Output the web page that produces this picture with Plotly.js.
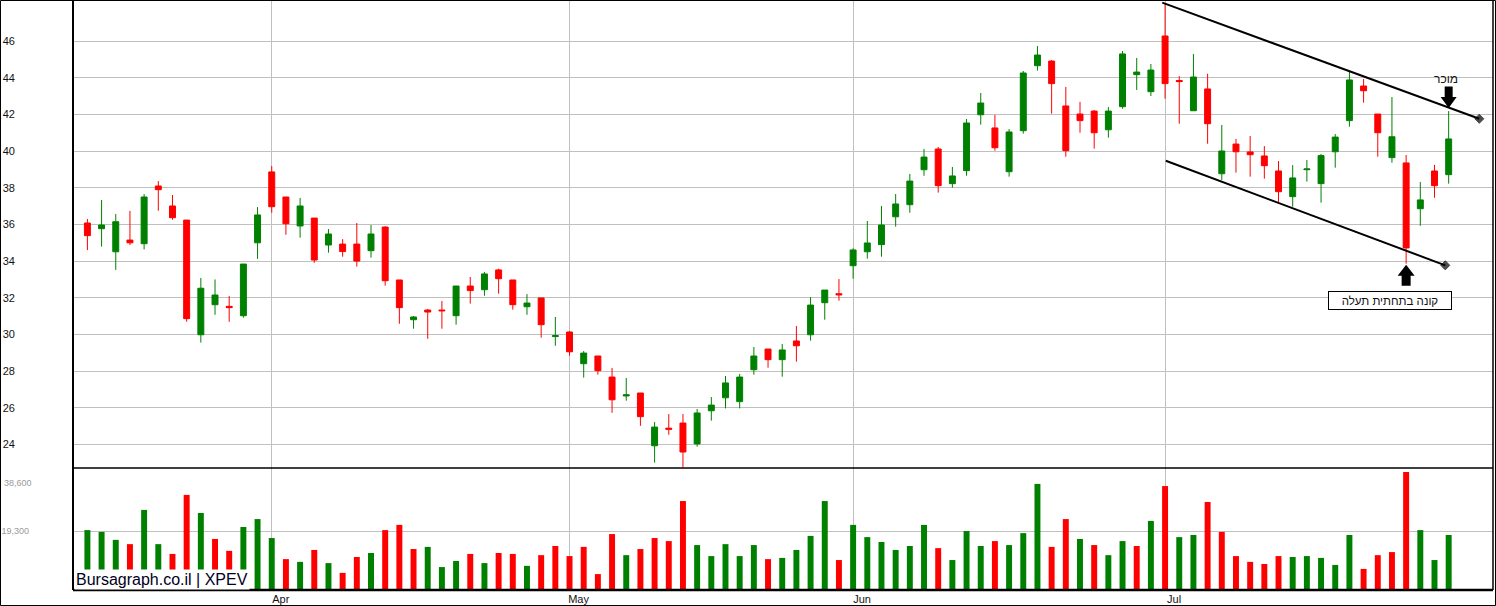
<!DOCTYPE html>
<html>
<head>
<meta charset="utf-8">
<script src="https://cdn.plot.ly/plotly-3.0.1.min.js"></script>
<style>
html,body{margin:0;padding:0;background:#fff;}
#chart{width:1496px;height:606px;}
</style>
</head>
<body>
<div id="chart"></div>
<script>
// ---- data (XPEV daily, Mar 15 – Jul 30) ----
const openP = [36.08,35.77,34.51,35.15,34.95,38.10,37.01,36.24,29.98,31.62,31.53,31.02,35.00,38.87,37.50,35.92,36.35,34.88,34.93,34.93,
34.57,35.86,32.97,30.80,31.33,31.33,31.02,32.64,32.44,33.52,32.97,31.51,31.99,29.88,30.13,28.40,28.82,27.67,26.64,26.80,
23.92,24.88,25.16,24.02,25.83,26.54,26.33,28.07,29.20,28.62,29.64,29.98,31.73,32.22,33.75,34.51,34.90,36.42,37.08,38.99,
40.12,38.23,38.94,41.99,41.27,38.88,41.12,44.67,44.92,42.47,42.03,42.19,41.17,42.43,44.18,43.25,46.29,43.86,42.21,43.40,
38.77,40.39,39.96,39.74,38.92,37.52,38.99,38.23,39.97,41.67,43.56,42.03,39.65,39.36,36.86,38.92,38.72];
const highP = [36.30,37.34,36.57,36.74,37.66,38.37,37.61,36.24,33.08,33.00,32.10,33.84,36.95,39.19,37.50,37.45,36.35,35.75,35.20,36.08,
35.97,35.90,32.97,31.00,31.39,31.82,32.64,33.13,33.41,33.59,32.97,32.20,31.99,30.95,30.18,29.09,28.82,28.17,27.62,26.80,
25.22,25.65,25.65,25.93,26.58,27.73,27.84,29.31,29.20,29.48,30.46,32.04,32.42,33.02,34.70,36.19,37.01,37.66,38.76,40.12,
40.23,39.14,41.76,43.18,41.98,41.21,44.38,45.74,44.98,43.51,42.69,42.25,42.41,45.47,45.09,44.76,48.10,44.10,45.31,44.23,
41.43,40.67,40.83,40.28,39.46,39.24,39.52,39.85,40.94,44.38,43.94,42.03,42.96,39.79,38.32,39.25,42.19];
const lowP = [34.60,34.79,33.52,34.88,34.64,36.75,36.26,30.69,29.55,31.07,30.69,30.91,34.12,36.64,35.44,35.28,33.91,34.46,34.24,33.70,
34.19,32.66,30.58,30.31,29.76,30.31,30.53,31.68,32.11,32.22,31.35,31.07,29.82,29.38,28.84,27.64,27.80,25.72,26.38,25.01,
23.00,24.52,22.75,23.87,25.29,25.96,25.96,27.80,28.18,27.69,28.51,29.66,30.80,31.84,33.04,34.13,34.24,35.88,36.64,38.66,
37.74,38.01,38.66,41.45,40.03,38.61,40.96,44.40,42.05,39.70,41.01,40.14,40.74,42.32,43.34,43.01,42.87,41.50,42.21,40.41,
38.43,38.83,38.61,38.50,37.23,36.97,38.34,37.19,39.10,41.34,42.65,39.70,39.37,33.86,35.93,37.46,38.23];
const closeP = [35.39,35.97,36.15,35.00,37.50,37.90,36.37,30.86,32.52,32.15,31.46,33.84,36.52,36.97,36.04,37.01,34.06,35.48,34.52,34.00,
35.48,32.93,31.46,30.95,31.22,31.29,32.64,32.39,33.30,33.04,31.62,31.71,30.53,29.93,29.05,28.98,28.02,26.43,26.70,25.51,
24.94,24.82,23.58,25.71,26.14,27.35,27.67,28.82,28.62,29.15,29.38,31.60,32.42,32.16,34.61,34.99,35.97,37.12,38.37,39.68,
38.12,38.65,41.54,42.63,40.19,41.05,44.27,45.25,43.69,40.03,41.67,41.01,42.19,45.31,44.32,44.43,43.69,43.80,44.05,41.50,
40.01,39.97,39.81,39.21,37.79,38.54,39.03,39.76,40.77,43.89,43.30,41.01,40.79,34.72,37.34,38.12,40.67];
const volume = [19600,19000,16400,15000,26200,15000,11800,31100,25200,16700,12800,20600,23200,17000,10100,9200,13100,8800,5600,10800,
12100,19600,21300,13400,14100,7500,9500,11800,8800,12100,11800,7900,11400,14400,11100,14100,5200,18300,11400,13400,
17000,16000,29100,14700,11100,15000,11100,14700,10100,10500,13100,17700,29100,9800,21300,17300,15700,13100,14400,21300,
13700,9800,19300,14400,16000,14700,18600,34700,14100,23200,16700,14700,11400,16000,14400,22600,34000,17300,18000,28800,
19000,11100,9200,8500,11100,10800,11100,10500,8200,18000,6900,11400,12400,38600,19600,9800,18000];

// month ticks (trading-day index of first session of each month)
const monthIdx = [13, 34, 54, 76];
const monthLabels = ['Apr', 'May', 'Jun', 'Jul'];
const priceTicks = [24, 26, 28, 30, 32, 34, 36, 38, 40, 42, 44, 46];
const volTicks = [19300];
const volTickText = ['19,300'];
const volTopLabel = '38,600';

// channel lines drawn on the chart (index, price)
const upperX = [75.8, 98.16];
const upperY = [48.11, 41.77];
const lowerX = [76.05, 95.76];
const lowerY = [39.48, 33.77];

const sellIdx = 96;
const buyIdx = 93;
const sellText = 'מוכר';
const buyText = 'קונה בתחתית תעלה';
const brandText = 'Bursagraph.co.il | XPEV';

// ---- build ----
const GREEN = '#008000', RED = '#ff0000';
const idx = closeP.map((_, i) => i);
const volColors = closeP.map((c, i) => (i === 0 || c >= closeP[i - 1]) ? GREEN : RED);

function lineAt(xs, ys, x) {
  return ys[0] + (ys[1] - ys[0]) * (x - xs[0]) / (xs[1] - xs[0]);
}
const sellY = lineAt(upperX, upperY, sellIdx);
const buyY = lowP[buyIdx];

const channelMarker = {symbol: 'diamond', size: [0, 7], color: '#000', line: {color: '#000', width: 1}};

const traces = [
  {
    type: 'candlestick', x: idx, open: openP, high: highP, low: lowP, close: closeP,
    xaxis: 'x', yaxis: 'y',
    increasing: {line: {color: GREEN, width: 1}, fillcolor: GREEN},
    decreasing: {line: {color: RED, width: 1}, fillcolor: RED},
    whiskerwidth: 0, hoverinfo: 'skip'
  },
  {
    type: 'bar', x: idx, y: volume, xaxis: 'x', yaxis: 'y2',
    width: 0.42, marker: {color: volColors, line: {width: 0}}, hoverinfo: 'skip'
  },
  {
    type: 'scatter', mode: 'lines+markers', x: upperX, y: upperY, xaxis: 'x', yaxis: 'y',
    line: {color: '#000', width: 2}, marker: channelMarker,
    cliponaxis: false, hoverinfo: 'skip'
  },
  {
    type: 'scatter', mode: 'lines+markers', x: lowerX, y: lowerY, xaxis: 'x', yaxis: 'y',
    line: {color: '#000', width: 2}, marker: channelMarker,
    cliponaxis: false, hoverinfo: 'skip'
  }
];

const L = 73, R = 1493, T = 1, B = 590;
const px2x = p => (p - L) / (R - L);
const py2y = p => (B - p) / (B - T);
const split = py2y(468);

const shapes = [
  // outer frame
  {type: 'rect', xref: 'paper', yref: 'paper', x0: px2x(0.5), x1: px2x(1495.5), y0: py2y(605.5), y1: py2y(0.5),
   line: {color: '#000', width: 1}, layer: 'above'},
  {type: 'line', xref: 'paper', yref: 'paper', x0: 0, x1: 0, y0: 0, y1: 1, line: {color: '#000', width: 2}, layer: 'above'},
  {type: 'line', xref: 'paper', yref: 'paper', x0: 1, x1: 1, y0: 0, y1: 1, line: {color: '#000', width: 1.5}, layer: 'above'},
  {type: 'line', xref: 'paper', yref: 'paper', x0: 0, x1: 1, y0: split, y1: split, line: {color: '#000', width: 1.5}, layer: 'above'},
  {type: 'line', xref: 'paper', yref: 'paper', x0: 0, x1: 1, y0: 0, y1: 0, line: {color: '#000', width: 2.5}, layer: 'above'},
  // sell arrow (down)
  {type: 'path', xref: 'x', yref: 'y', xsizemode: 'pixel', ysizemode: 'pixel', xanchor: sellIdx, yanchor: sellY,
   path: 'M 0 -0.5 L -8 10.5 L -4 10.5 L -4 21 L 4 21 L 4 10.5 L 8 10.5 Z',
   fillcolor: '#000', line: {width: 0}, layer: 'above'},
  // buy arrow (up)
  {type: 'path', xref: 'x', yref: 'y', xsizemode: 'pixel', ysizemode: 'pixel', xanchor: buyIdx, yanchor: buyY,
   path: 'M 0 -1 L -8.5 -12 L -4.5 -12 L -4.5 -22 L 4.5 -22 L 4.5 -12 L 8.5 -12 Z',
   fillcolor: '#000', line: {width: 0}, layer: 'above'}
];

const annotations = [
  {xref: 'x', yref: 'y', x: sellIdx, y: sellY, text: sellText, showarrow: false,
   xshift: -3, yshift: 29, font: {size: 12, color: '#111', family: 'Liberation Sans, Arial, sans-serif'}},
  {xref: 'x', yref: 'y', x: buyIdx, y: buyY, text: buyText, showarrow: false,
   xshift: -16, yshift: -36.5, width: 122, height: 17, borderwidth: 1, bordercolor: '#000', bgcolor: '#fff', borderpad: 0,
   font: {size: 11.5, color: '#111', family: 'Liberation Sans, Arial, sans-serif'}},
  {xref: 'paper', yref: 'paper', x: px2x(74), y: py2y(590), xanchor: 'left', yanchor: 'bottom',
   text: brandText, showarrow: false, bgcolor: '#fff', borderpad: 1,
   font: {size: 16, color: '#000022', family: 'Liberation Sans, Arial, sans-serif'}},
  {xref: 'paper', yref: 'paper', x: px2x(2), y: py2y(482.7), xanchor: 'left', yanchor: 'middle',
   text: volTopLabel, showarrow: false, font: {size: 9, color: '#9a9a9a', family: 'Liberation Sans, Arial, sans-serif'}}
];

const layout = {
  width: 1496, height: 606,
  margin: {l: L, r: 1496 - R, t: T, b: 606 - B},
  paper_bgcolor: '#fff', plot_bgcolor: '#fff',
  showlegend: false,
  boxgap: 0.58, boxgroupgap: 0,
  font: {family: 'Liberation Sans, Arial, sans-serif'},
  xaxis: {
    range: [-1.0155, 99.126], anchor: 'y2', tickmode: 'array', tickvals: monthIdx, ticktext: monthLabels,
    showgrid: true, gridcolor: '#c0c0c0', gridwidth: 1, zeroline: false, showline: false, ticks: '',
    tickfont: {size: 11, color: '#111'}, ticklabelshift: 9, ticklabelstandoff: 1,
    rangeslider: {visible: false}, fixedrange: true
  },
  yaxis: {
    domain: [split, 1], range: [22.706, 48.2], tickmode: 'array', tickvals: priceTicks,
    showgrid: true, gridcolor: '#c0c0c0', gridwidth: 1, zeroline: false, showline: false, ticks: '',
    tickfont: {size: 11, color: '#111'}, ticklabelstandoff: 57, fixedrange: true
  },
  yaxis2: {
    domain: [0, split], range: [0, 39906], tickmode: 'array', tickvals: volTicks, ticktext: volTickText,
    showgrid: true, gridcolor: '#c0c0c0', gridwidth: 1, zeroline: false, showline: false, ticks: '',
    tickfont: {size: 9, color: '#9a9a9a'}, ticklabelstandoff: 43, fixedrange: true
  },
  shapes: shapes,
  annotations: annotations
};

Plotly.newPlot('chart', traces, layout, {displayModeBar: false, staticPlot: true});
</script>
</body>
</html>
